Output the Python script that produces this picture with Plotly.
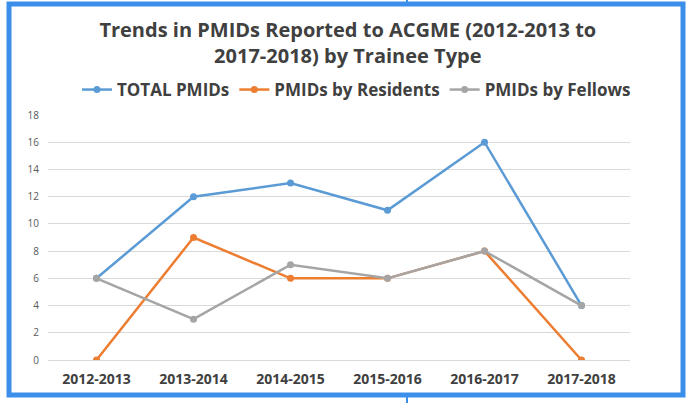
import plotly.graph_objects as go

categories = ["2012-2013", "2013-2014", "2014-2015", "2015-2016", "2016-2017", "2017-2018"]
total_pmids = [6, 12, 13, 11, 16, 4]
resident_pmids = [0, 9, 6, 6, 8, 0]
fellow_pmids = [6, 3, 7, 6, 8, 4]
y_ticks = [0, 2, 4, 6, 8, 10, 12, 14, 16, 18]

W, H = 686, 403
L, R, T, B = 48, 630, 115, 360

def px(x):
    return (x - L) / (R - L)

def py(y):
    return (B - y) / (B - T)

fig = go.Figure()
series = [
    ("TOTAL PMIDs", total_pmids, "#5b9bd5"),
    ("PMIDs by Residents", resident_pmids, "#ed7d31"),
    ("PMIDs by Fellows", fellow_pmids, "#a5a5a5"),
]
for name, vals, col in series:
    fig.add_trace(go.Scatter(
        x=categories, y=vals, name=name, mode="lines+markers",
        line=dict(color=col, width=2.5),
        marker=dict(color=col, size=7),
    ))

frame = "#3b8eea"
fig.update_layout(
    width=W, height=H,
    margin=dict(l=L, r=W - R, t=T, b=H - B),
    paper_bgcolor="white", plot_bgcolor="white",
    title=dict(
        text="<b>Trends in PMIDs Reported to ACGME (2012-2013 to<br>2017-2018) by Trainee Type</b>",
        x=0.507, xanchor="center", y=1 - 37 / H, yanchor="middle",
        font=dict(family="Open Sans", size=20, color="#404040"),
    ),
    legend=dict(
        orientation="h", x=0.53, xanchor="center", y=py(90), yanchor="middle",
        font=dict(family="Open Sans", size=17, color="#404040", weight="bold"),
        itemwidth=30, bgcolor="rgba(0,0,0,0)",
    ),
    xaxis=dict(
        type="category", range=[-0.5, 5.5], showgrid=False, zeroline=False,
        showline=False, ticks="", ticklabelstandoff=9,
        tickfont=dict(family="Open Sans", size=14, color="#404040", weight="bold"),
    ),
    yaxis=dict(
        range=[0, 18], tickvals=y_ticks, showgrid=True, gridcolor="#d9d9d9",
        gridwidth=1, zeroline=True, zerolinecolor="#d9d9d9", zerolinewidth=1,
        showline=False, ticks="", ticklabelstandoff=8,
        tickfont=dict(family="Open Sans", size=10, color="#595959"),
    ),
    shapes=[
        dict(type="rect", xref="paper", yref="paper",
             x0=px(9), x1=px(683), y0=py(395), y1=py(4),
             line=dict(color=frame, width=5), layer="below"),
        dict(type="line", xref="paper", yref="paper",
             x0=px(407), x1=px(407), y0=py(0), y1=py(4),
             line=dict(color=frame, width=2)),
        dict(type="line", xref="paper", yref="paper",
             x0=px(407), x1=px(407), y0=py(395), y1=py(403),
             line=dict(color=frame, width=2)),
    ],
)

fig.write_html(
    "out.html",
    config={"displayModeBar": False},
    post_script="document.body.style.margin='0';document.body.style.overflow='hidden';",
)
